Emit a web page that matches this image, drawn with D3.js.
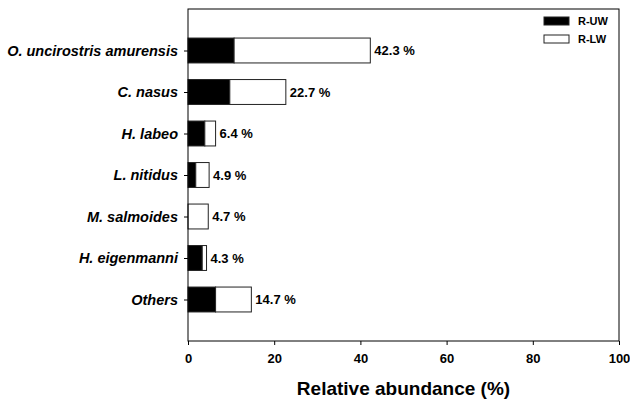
<!DOCTYPE html>
<html>
<head>
<meta charset="utf-8">
<script src="https://cdn.jsdelivr.net/npm/d3@7/dist/d3.min.js"></script>
<style>
  html, body { margin: 0; padding: 0; background: #fff; }
  svg { display: block; font-family: "Liberation Sans", Arial, sans-serif; }
</style>
</head>
<body>
<svg id="chart" width="630" height="405"></svg>
<script>
// Species (top to bottom) and abundance shares (%)
const species = ["O. uncirostris amurensis", "C. nasus", "H. labeo", "L. nitidus",
                 "M. salmoides", "H. eigenmanni", "Others"];
const upperWater = [10.7, 9.7, 3.9, 1.8, 0.0, 3.3, 6.4];   // R-UW part
const totals     = [42.3, 22.7, 6.4, 4.9, 4.7, 4.3, 14.7]; // R-UW + R-LW
const seriesNames = ["R-UW", "R-LW"];
const xTicks = [0, 20, 40, 60, 80, 100];

const rows = species.map((s, i) => ({
  name: s,
  uw: upperWater[i],
  lw: totals[i] - upperWater[i],
  total: totals[i]
}));

const svg = d3.select("#chart");
const margin = { left: 188, right: 11, top: 9, bottom: 64 };
const W = 630, H = 405;
const x0 = margin.left, x1 = W - margin.right;
const y0 = margin.top, y1 = H - margin.bottom;

const x = d3.scaleLinear().domain([0, 100]).range([x0, x1]);
// categories sit at 1..7 on an 8-unit vertical scale
const yPos = d3.scaleLinear().domain([0, species.length + 1]).range([y0, y1]);
const barH = (yPos(1) - yPos(0)) * 0.6;

const stack = d3.stack().keys(["uw", "lw"]);
const layers = stack(rows);
const fills = ["#000000", "#ffffff"];

const g = svg.append("g");
layers.forEach((layer, li) => {
  g.selectAll(null).data(layer.filter(d => d[1] - d[0] > 0)).join("rect")
    .attr("x", d => x(d[0]))
    .attr("y", d => yPos(rows.indexOf(d.data) + 1) - barH / 2)
    .attr("width", d => x(d[1]) - x(d[0]))
    .attr("height", barH)
    .attr("fill", fills[li])
    .attr("stroke", "#222")
    .attr("stroke-width", 1);
});

// value labels
g.selectAll(null).data(rows).join("text")
  .attr("x", d => x(d.total) + 4)
  .attr("y", (d, i) => yPos(i + 1))
  .attr("dy", "0.35em")
  .attr("font-size", 13)
  .attr("font-weight", "bold")
  .text(d => d3.format(".1f")(d.total) + " %");

// frame
svg.append("rect")
  .attr("x", x0).attr("y", y0)
  .attr("width", x1 - x0).attr("height", y1 - y0)
  .attr("fill", "none").attr("stroke", "#000").attr("stroke-width", 1);

// x axis
const xAxis = svg.append("g")
  .attr("transform", `translate(0,${y1})`)
  .call(d3.axisBottom(x).tickValues(xTicks).tickSize(4).tickPadding(9));
xAxis.select(".domain").remove();
xAxis.selectAll("text")
  .attr("font-size", 13).attr("font-weight", "bold")
  .attr("font-family", "Liberation Sans, Arial, sans-serif")
  .attr("fill", "#000");

// y axis (category labels)
const yAxis = svg.append("g")
  .attr("transform", `translate(${x0},0)`)
  .call(d3.axisLeft(yPos)
    .tickValues(d3.range(1, species.length + 1))
    .tickFormat(v => species[v - 1])
    .tickSize(4).tickPadding(6));
yAxis.select(".domain").remove();
yAxis.selectAll("text")
  .attr("font-size", 14.5).attr("font-weight", "bold").attr("font-style", "italic")
  .attr("font-family", "Liberation Sans, Arial, sans-serif")
  .attr("fill", "#000");

// x-axis title
svg.append("text")
  .attr("x", (x0 + x1) / 2).attr("y", 395)
  .attr("text-anchor", "middle")
  .attr("font-size", 19).attr("font-weight", "bold")
  .text("Relative abundance (%)");

// legend
const legend = svg.append("g").attr("transform", "translate(544,17)");
seriesNames.forEach((name, i) => {
  legend.append("rect")
    .attr("x", 0).attr("y", i * 18)
    .attr("width", 25).attr("height", 8)
    .attr("fill", fills[i]).attr("stroke", "#222").attr("stroke-width", 1);
  legend.append("text")
    .attr("x", 34).attr("y", i * 18 + 4)
    .attr("dy", "0.35em")
    .attr("font-size", 11).attr("font-weight", "bold")
    .text(name);
});
</script>
</body>
</html>
